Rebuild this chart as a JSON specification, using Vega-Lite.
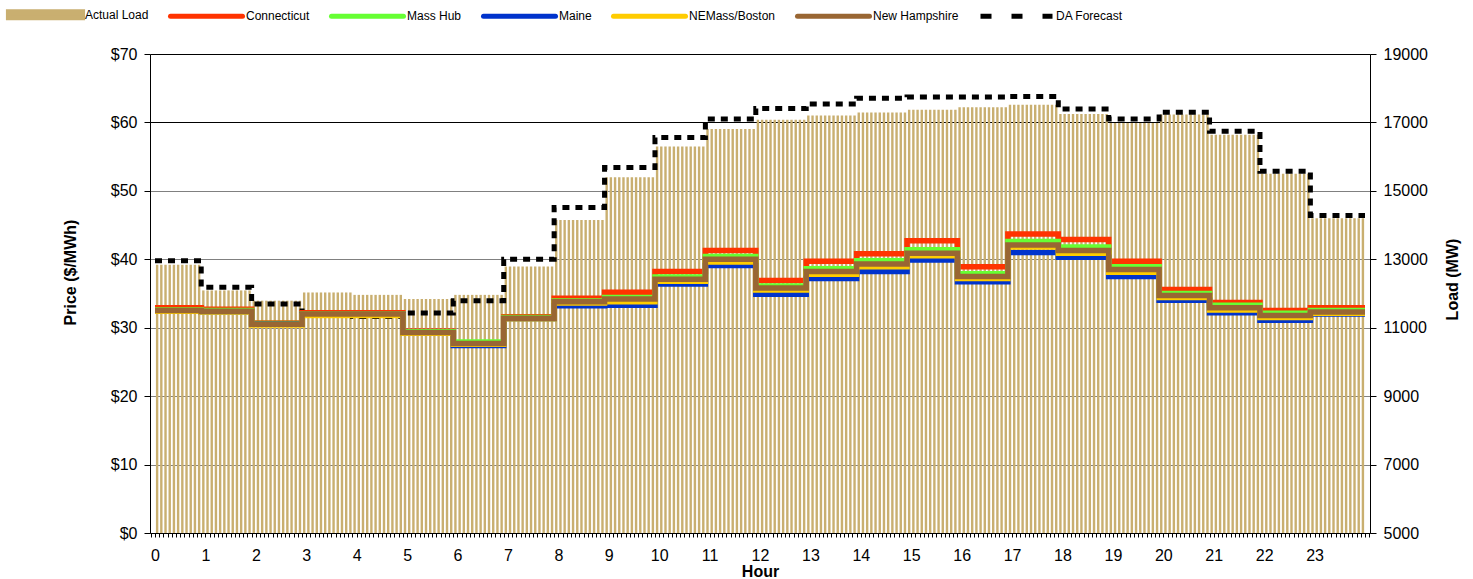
{
"$schema": "https://vega.github.io/schema/vega-lite/v6.json",
"autosize": "none",
"width": 1220,
"height": 479,
"padding": {"left": 150, "top": 54, "right": 103, "bottom": 46},
"background": "white",
"config": {"view": {"stroke": null}, "font": "Liberation Sans"},
"datasets": {
"load": [
{"m":0,"load":12840},{"m":5,"load":12840},{"m":10,"load":12840},{"m":15,"load":12840},{"m":20,"load":12840},{"m":25,"load":12840},{"m":30,"load":12840},{"m":35,"load":12840},{"m":40,"load":12840},{"m":45,"load":12840},{"m":50,"load":12840},
{"m":55,"load":12090},{"m":60,"load":12090},{"m":65,"load":12090},{"m":70,"load":12090},{"m":75,"load":12090},{"m":80,"load":12090},{"m":85,"load":12090},{"m":90,"load":12090},{"m":95,"load":12090},{"m":100,"load":12090},{"m":105,"load":12090},{"m":110,"load":12090},
{"m":115,"load":11790},{"m":120,"load":11790},{"m":125,"load":11790},{"m":130,"load":11790},{"m":135,"load":11790},{"m":140,"load":11790},{"m":145,"load":11790},{"m":150,"load":11790},{"m":155,"load":11790},{"m":160,"load":11790},{"m":165,"load":11790},{"m":170,"load":11790},
{"m":175,"load":12030},{"m":180,"load":12030},{"m":185,"load":12030},{"m":190,"load":12030},{"m":195,"load":12030},{"m":200,"load":12030},{"m":205,"load":12030},{"m":210,"load":12030},{"m":215,"load":12030},{"m":220,"load":12030},{"m":225,"load":12030},{"m":230,"load":12030},
{"m":235,"load":11960},{"m":240,"load":11960},{"m":245,"load":11960},{"m":250,"load":11960},{"m":255,"load":11960},{"m":260,"load":11960},{"m":265,"load":11960},{"m":270,"load":11960},{"m":275,"load":11960},{"m":280,"load":11960},{"m":285,"load":11960},{"m":290,"load":11960},
{"m":295,"load":11840},{"m":300,"load":11840},{"m":305,"load":11840},{"m":310,"load":11840},{"m":315,"load":11840},{"m":320,"load":11840},{"m":325,"load":11840},{"m":330,"load":11840},{"m":335,"load":11840},{"m":340,"load":11840},{"m":345,"load":11840},{"m":350,"load":11840},
{"m":355,"load":11960},{"m":360,"load":11960},{"m":365,"load":11960},{"m":370,"load":11960},{"m":375,"load":11960},{"m":380,"load":11960},{"m":385,"load":11960},{"m":390,"load":11960},{"m":395,"load":11960},{"m":400,"load":11960},{"m":405,"load":11960},{"m":410,"load":11960},
{"m":415,"load":12790},{"m":420,"load":12790},{"m":425,"load":12790},{"m":430,"load":12790},{"m":435,"load":12790},{"m":440,"load":12790},{"m":445,"load":12790},{"m":450,"load":12790},{"m":455,"load":12790},{"m":460,"load":12790},{"m":465,"load":12790},{"m":470,"load":12790},
{"m":475,"load":14150},{"m":480,"load":14150},{"m":485,"load":14150},{"m":490,"load":14150},{"m":495,"load":14150},{"m":500,"load":14150},{"m":505,"load":14150},{"m":510,"load":14150},{"m":515,"load":14150},{"m":520,"load":14150},{"m":525,"load":14150},{"m":530,"load":14150},
{"m":535,"load":15400},{"m":540,"load":15400},{"m":545,"load":15400},{"m":550,"load":15400},{"m":555,"load":15400},{"m":560,"load":15400},{"m":565,"load":15400},{"m":570,"load":15400},{"m":575,"load":15400},{"m":580,"load":15400},{"m":585,"load":15400},{"m":590,"load":15400},
{"m":595,"load":16300},{"m":600,"load":16300},{"m":605,"load":16300},{"m":610,"load":16300},{"m":615,"load":16300},{"m":620,"load":16300},{"m":625,"load":16300},{"m":630,"load":16300},{"m":635,"load":16300},{"m":640,"load":16300},{"m":645,"load":16300},{"m":650,"load":16300},
{"m":655,"load":16810},{"m":660,"load":16810},{"m":665,"load":16810},{"m":670,"load":16810},{"m":675,"load":16810},{"m":680,"load":16810},{"m":685,"load":16810},{"m":690,"load":16810},{"m":695,"load":16810},{"m":700,"load":16810},{"m":705,"load":16810},{"m":710,"load":16810},
{"m":715,"load":17080},{"m":720,"load":17080},{"m":725,"load":17080},{"m":730,"load":17080},{"m":735,"load":17080},{"m":740,"load":17080},{"m":745,"load":17080},{"m":750,"load":17080},{"m":755,"load":17080},{"m":760,"load":17080},{"m":765,"load":17080},{"m":770,"load":17080},
{"m":775,"load":17200},{"m":780,"load":17200},{"m":785,"load":17200},{"m":790,"load":17200},{"m":795,"load":17200},{"m":800,"load":17200},{"m":805,"load":17200},{"m":810,"load":17200},{"m":815,"load":17200},{"m":820,"load":17200},{"m":825,"load":17200},{"m":830,"load":17200},
{"m":835,"load":17290},{"m":840,"load":17290},{"m":845,"load":17290},{"m":850,"load":17290},{"m":855,"load":17290},{"m":860,"load":17290},{"m":865,"load":17290},{"m":870,"load":17290},{"m":875,"load":17290},{"m":880,"load":17290},{"m":885,"load":17290},{"m":890,"load":17290},
{"m":895,"load":17370},{"m":900,"load":17370},{"m":905,"load":17370},{"m":910,"load":17370},{"m":915,"load":17370},{"m":920,"load":17370},{"m":925,"load":17370},{"m":930,"load":17370},{"m":935,"load":17370},{"m":940,"load":17370},{"m":945,"load":17370},{"m":950,"load":17370},
{"m":955,"load":17440},{"m":960,"load":17440},{"m":965,"load":17440},{"m":970,"load":17440},{"m":975,"load":17440},{"m":980,"load":17440},{"m":985,"load":17440},{"m":990,"load":17440},{"m":995,"load":17440},{"m":1000,"load":17440},{"m":1005,"load":17440},{"m":1010,"load":17440},
{"m":1015,"load":17520},{"m":1020,"load":17520},{"m":1025,"load":17520},{"m":1030,"load":17520},{"m":1035,"load":17520},{"m":1040,"load":17520},{"m":1045,"load":17520},{"m":1050,"load":17520},{"m":1055,"load":17520},{"m":1060,"load":17520},{"m":1065,"load":17520},{"m":1070,"load":17520},
{"m":1075,"load":17250},{"m":1080,"load":17250},{"m":1085,"load":17250},{"m":1090,"load":17250},{"m":1095,"load":17250},{"m":1100,"load":17250},{"m":1105,"load":17250},{"m":1110,"load":17250},{"m":1115,"load":17250},{"m":1120,"load":17250},{"m":1125,"load":17250},{"m":1130,"load":17250},
{"m":1135,"load":16980},{"m":1140,"load":16980},{"m":1145,"load":16980},{"m":1150,"load":16980},{"m":1155,"load":16980},{"m":1160,"load":16980},{"m":1165,"load":16980},{"m":1170,"load":16980},{"m":1175,"load":16980},{"m":1180,"load":16980},{"m":1185,"load":16980},{"m":1190,"load":16980},
{"m":1195,"load":17230},{"m":1200,"load":17230},{"m":1205,"load":17230},{"m":1210,"load":17230},{"m":1215,"load":17230},{"m":1220,"load":17230},{"m":1225,"load":17230},{"m":1230,"load":17230},{"m":1235,"load":17230},{"m":1240,"load":17230},{"m":1245,"load":17230},{"m":1250,"load":17230},
{"m":1255,"load":16640},{"m":1260,"load":16640},{"m":1265,"load":16640},{"m":1270,"load":16640},{"m":1275,"load":16640},{"m":1280,"load":16640},{"m":1285,"load":16640},{"m":1290,"load":16640},{"m":1295,"load":16640},{"m":1300,"load":16640},{"m":1305,"load":16640},{"m":1310,"load":16640},
{"m":1315,"load":15500},{"m":1320,"load":15500},{"m":1325,"load":15500},{"m":1330,"load":15500},{"m":1335,"load":15500},{"m":1340,"load":15500},{"m":1345,"load":15500},{"m":1350,"load":15500},{"m":1355,"load":15500},{"m":1360,"load":15500},{"m":1365,"load":15500},{"m":1370,"load":15500},
{"m":1375,"load":14200},{"m":1380,"load":14200},{"m":1385,"load":14200},{"m":1390,"load":14200},{"m":1395,"load":14200},{"m":1400,"load":14200},{"m":1405,"load":14200},{"m":1410,"load":14200},{"m":1415,"load":14200},{"m":1420,"load":14200},{"m":1425,"load":14200},{"m":1430,"load":14200},{"m":1435,"load":14200}
],
"hourly": [
{"m":0,"Connecticut":32.9,"Mass Hub":32.6,"Maine":32.4,"NEMass/Boston":32.4,"New Hampshire":32.5,"DA":12960},
{"m":55,"Connecticut":32.7,"Mass Hub":32.5,"Maine":32.3,"NEMass/Boston":32.3,"New Hampshire":32.4,"DA":12180},
{"m":115,"Connecticut":30.7,"Mass Hub":30.6,"Maine":30.5,"NEMass/Boston":30.4,"New Hampshire":30.5,"DA":11690},
{"m":175,"Connecticut":32.2,"Mass Hub":32.0,"Maine":31.9,"NEMass/Boston":31.8,"New Hampshire":32.0,"DA":11380},
{"m":235,"Connecticut":32.2,"Mass Hub":32.0,"Maine":31.9,"NEMass/Boston":31.8,"New Hampshire":32.0,"DA":11330},
{"m":295,"Connecticut":29.5,"Mass Hub":29.4,"Maine":29.2,"NEMass/Boston":29.2,"New Hampshire":29.3,"DA":11430},
{"m":355,"Connecticut":27.8,"Mass Hub":27.9,"Maine":27.4,"NEMass/Boston":27.6,"New Hampshire":27.7,"DA":11790},
{"m":415,"Connecticut":31.6,"Mass Hub":31.5,"Maine":31.3,"NEMass/Boston":31.3,"New Hampshire":31.4,"DA":13000},
{"m":475,"Connecticut":34.3,"Mass Hub":33.9,"Maine":33.2,"NEMass/Boston":33.6,"New Hampshire":33.8,"DA":14510},
{"m":535,"Connecticut":35.2,"Mass Hub":34.4,"Maine":33.3,"NEMass/Boston":33.8,"New Hampshire":34.2,"DA":15680},
{"m":595,"Connecticut":38.2,"Mass Hub":37.4,"Maine":36.4,"NEMass/Boston":36.8,"New Hampshire":37.1,"DA":16560},
{"m":655,"Connecticut":41.3,"Mass Hub":40.4,"Maine":39.1,"NEMass/Boston":39.6,"New Hampshire":40.0,"DA":17100},
{"m":715,"Connecticut":36.9,"Mass Hub":36.1,"Maine":34.9,"NEMass/Boston":35.5,"New Hampshire":35.8,"DA":17410},
{"m":775,"Connecticut":39.7,"Mass Hub":38.6,"Maine":37.2,"NEMass/Boston":37.8,"New Hampshire":38.2,"DA":17540},
{"m":835,"Connecticut":40.8,"Mass Hub":39.8,"Maine":38.2,"NEMass/Boston":38.9,"New Hampshire":39.3,"DA":17710},
{"m":895,"Connecticut":42.7,"Mass Hub":41.4,"Maine":39.9,"NEMass/Boston":40.5,"New Hampshire":40.9,"DA":17740},
{"m":955,"Connecticut":38.9,"Mass Hub":37.9,"Maine":36.7,"NEMass/Boston":37.2,"New Hampshire":37.5,"DA":17740},
{"m":1015,"Connecticut":43.7,"Mass Hub":42.6,"Maine":41.0,"NEMass/Boston":41.8,"New Hampshire":42.1,"DA":17760},
{"m":1075,"Connecticut":42.9,"Mass Hub":41.8,"Maine":40.3,"NEMass/Boston":40.9,"New Hampshire":41.3,"DA":17390},
{"m":1135,"Connecticut":39.7,"Mass Hub":38.9,"Maine":37.5,"NEMass/Boston":38.1,"New Hampshire":38.5,"DA":17100},
{"m":1195,"Connecticut":35.6,"Mass Hub":35.0,"Maine":34.0,"NEMass/Boston":34.4,"New Hampshire":34.7,"DA":17300},
{"m":1255,"Connecticut":33.7,"Mass Hub":33.3,"Maine":32.2,"NEMass/Boston":32.6,"New Hampshire":32.9,"DA":16740},
{"m":1315,"Connecticut":32.5,"Mass Hub":32.1,"Maine":31.1,"NEMass/Boston":31.5,"New Hampshire":31.8,"DA":15570},
{"m":1375,"Connecticut":32.9,"Mass Hub":32.5,"Maine":32.0,"NEMass/Boston":32.1,"New Hampshire":32.3,"DA":14280},
{"m":1440,"Connecticut":32.9,"Mass Hub":32.5,"Maine":32.0,"NEMass/Boston":32.1,"New Hampshire":32.3,"DA":14280}
]
},
"layer": [
{
"layer": [
{
"data": {"name": "load"},
"mark": {"type": "bar", "width": 2.4, "xOffset": 2.12},
"encoding": {
"x": {"field": "m", "type": "quantitative", "scale": {"domain": [0, 1440], "nice": false, "zero": false},
"axis": {"title": "Hour", "titleFontSize": 16, "titleFontWeight": "bold", "titleColor": "#000", "titleX": 610, "titleY": 38, "titleAlign": "center", "titleBaseline": "middle", "titleAngle": 0,
"tickCount": 288, "labelExpr": "datum.value % 60 === 0 && datum.value < 1440 ? '' + (datum.value / 60) : ''",
"labelFontSize": 16, "labelColor": "#000", "labelPadding": 10, "labelDx": 2, "labelOverlap": false, "labelFlush": false, "labelBound": false,
"tickSize": 4, "tickColor": "#000", "domainColor": "#000", "grid": false}},
"y": {"field": "load", "type": "quantitative", "scale": {"domain": [5000, 19000], "nice": false, "zero": false},
"axis": {"orient": "right", "title": "Load (MW)", "values": [5000, 7000, 9000, 11000, 13000, 15000, 17000, 19000], "format": "d",
"labelFontSize": 16, "labelColor": "#000", "labelPadding": 7, "tickSize": 6, "tickColor": "#000", "domainColor": "#000", "grid": false,
"titleX": 82, "titleY": 225, "titleAngle": -90, "titleAlign": "center", "titleBaseline": "middle", "titleFontSize": 16, "titleFontWeight": "bold", "titleColor": "#000"}},
"y2": {"datum": 5000},
"color": {"datum": "Actual Load"}
}
},
{
"data": {"name": "hourly"},
"mark": {"type": "line", "interpolate": "step-after", "strokeWidth": 5, "strokeDash": [7, 6], "strokeCap": "butt"},
"encoding": {
"x": {"field": "m", "type": "quantitative"},
"y": {"field": "DA", "type": "quantitative"},
"color": {"datum": "DA Forecast"}
}
}
]
},
{
"data": {"name": "hourly"},
"transform": [{"fold": ["Connecticut", "Mass Hub", "Maine", "NEMass/Boston", "New Hampshire"], "as": ["series", "price"]}],
"mark": {"type": "line", "interpolate": "step-after", "strokeWidth": 5.5},
"encoding": {
"x": {"field": "m", "type": "quantitative"},
"y": {"field": "price", "type": "quantitative", "scale": {"domain": [0, 70], "nice": false},
"axis": {"orient": "left", "title": "Price ($/MWh)", "values": [0, 10, 20, 30, 40, 50, 60, 70], "labelExpr": "'$' + datum.value",
"labelFontSize": 16, "labelColor": "#000", "labelPadding": 7, "tickSize": 6, "tickColor": "#000", "domainColor": "#000",
"grid": true, "gridColor": {"condition": {"test": "datum.value >= 60", "value": "#000"}, "value": "#808080"}, "gridWidth": 1,
"titleX": -80, "titleY": 218, "titleAngle": -90, "titleAlign": "center", "titleBaseline": "middle", "titleFontSize": 16, "titleFontWeight": "bold", "titleColor": "#000"}},
"color": {"field": "series", "type": "nominal",
"scale": {"domain": ["Actual Load", "Connecticut", "Mass Hub", "Maine", "NEMass/Boston", "New Hampshire", "DA Forecast"],
"range": ["#C9AF70", "#FF3300", "#66FF33", "#0033CC", "#FFCC00", "#996633", "#000000"]},
"legend": {"title": null, "orient": "none", "legendX": -143, "legendY": -78, "direction": "horizontal",
"symbolType": "stroke", "symbolSize": 5184, "symbolStrokeWidth": 5,
"labelFont": "Liberation Sans", "labelFontSize": 12, "labelColor": "#000", "labelOffset": 1, "columnPadding": 11, "padding": 0, "labelLimit": 300,
"encode": {"symbols": {"update": {
"shape": {"signal": "datum.value === 'Actual Load' ? 'M-1.03,-0.085H1.03V0.085H-1.03Z' : 'stroke'"},
"fill": {"signal": "datum.value === 'Actual Load' ? '#C9AF70' : 'transparent'"},
"stroke": {"signal": "datum.value === 'Actual Load' ? 'transparent' : scale('color', datum.value)"},
"strokeWidth": {"value": 5},
"strokeCap": {"signal": "datum.value === 'DA Forecast' ? 'butt' : 'round'"},
"strokeDash": {"signal": "datum.value === 'DA Forecast' ? [11, 20] : null"},
"opacity": {"value": 1}
}}}}
}
}
}
],
"resolve": {"scale": {"y": "independent"}}
}
